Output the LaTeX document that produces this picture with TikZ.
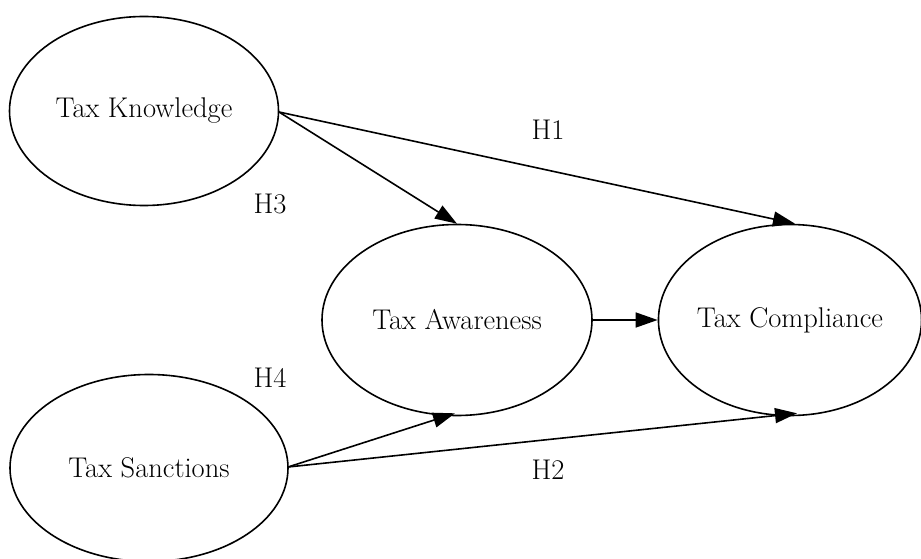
\documentclass[tikz,border=0pt]{standalone}
\usetikzlibrary{shapes.geometric,arrows.meta}
\begin{document}
\begin{tikzpicture}[x=1pt,y=-1pt,
  construct/.style={draw,line width=1.6pt,ellipse,inner sep=0pt,font=\fontsize{28.5}{33}\selectfont},
  link/.style={line width=1.6pt,-{Triangle[length=22pt,width=15pt]}},
  hyp/.style={font=\fontsize{28.5}{33}\selectfont}]
\useasboundingbox (0,0) rectangle (921,559);
\node[construct,minimum width=269pt,minimum height=189pt] (tk) at (144,111) {Tax Knowledge};
\node[construct,minimum width=278pt,minimum height=187pt] (ts) at (149,468) {Tax Sanctions};
\node[construct,minimum width=270pt,minimum height=191pt] (ta) at (457,320) {Tax Awareness};
\node[construct,minimum width=260pt,minimum height=191pt] (tc) at (790,320) {Tax Compliance};
\coordinate (tkR) at (279,112);
\coordinate (tsR) at (288,467);
\draw[link] (tkR) -- (ta.north);
\draw[link] (tkR) -- ([xshift=5pt]tc.north);
\draw[link] (tsR) -- ([yshift=3pt,xshift=-2pt]ta.south);
\draw[link] (tsR) -- ([xshift=7pt,yshift=3pt]tc.south);
\draw[link] (ta.east) -- (tc.west);
\node[hyp] (h1) at (548,130) {H1};
\node[hyp] (h3) at (270,204) {H3};
\node[hyp] (h4) at (270,378) {H4};
\node[hyp] (h2) at (548,470) {H2};
\end{tikzpicture}
\end{document}
